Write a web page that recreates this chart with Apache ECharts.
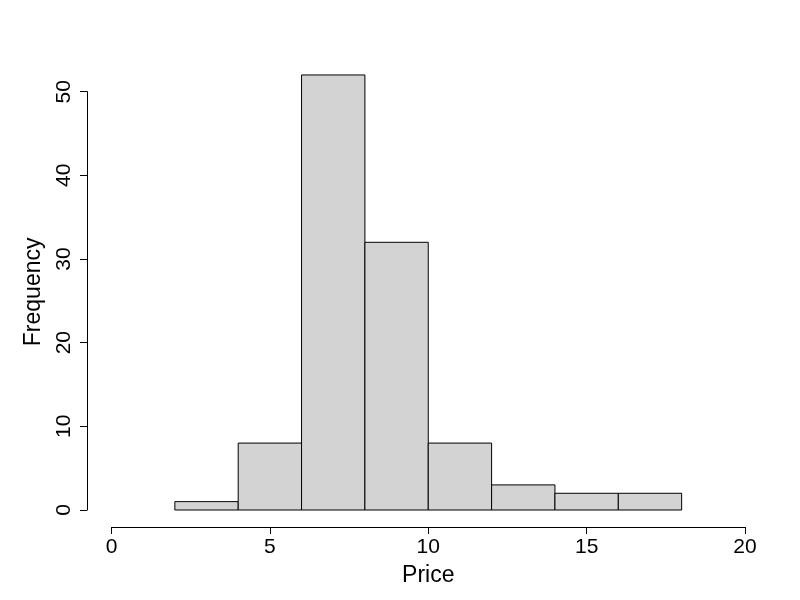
<!DOCTYPE html>
<html>
<head>
<meta charset="utf-8">
<script src="https://cdn.jsdelivr.net/npm/echarts@6/dist/echarts.min.js"></script>
<style>html,body{margin:0;padding:0;background:#fff}#c{width:800px;height:600px}</style>
</head>
<body>
<div id="c"></div>
<script>
var binStarts = [2, 4, 6, 8, 10, 12, 14, 16];
var binEnds   = [4, 6, 8, 10, 12, 14, 16, 18];
var counts    = [1, 8, 52, 32, 8, 3, 2, 2];
var xTicks = [0, 5, 10, 15, 20];
var yTicks = [0, 10, 20, 30, 40, 50];

var data = binStarts.map(function (s, i) { return [s, binEnds[i], counts[i]]; });
var font = 'Liberation Sans, Arial, sans-serif';

var chart = echarts.init(document.getElementById('c'), null, {renderer: 'canvas'});
chart.setOption({
  animation: false,
  backgroundColor: '#fff',
  grid: {left: 111.5, right: 55, top: 91.7, bottom: 90, containLabel: false},
  xAxis: {
    type: 'value', min: xTicks[0], max: xTicks[xTicks.length - 1], interval: 5,
    offset: 17,
    name: 'Price', nameLocation: 'middle', nameGap: 37,
    nameTextStyle: {color: '#000', fontSize: 23, fontFamily: font},
    axisLine: {show: true, onZero: false, lineStyle: {color: '#000', width: 1}},
    axisTick: {show: true, length: 7, lineStyle: {color: '#000'}},
    axisLabel: {color: '#000', fontSize: 21, fontFamily: font, margin: 9.5},
    splitLine: {show: false}
  },
  yAxis: {
    type: 'value', min: yTicks[0], max: yTicks[yTicks.length - 1], interval: 10,
    offset: 24.5,
    name: 'Frequency', nameLocation: 'middle', nameGap: 40.5,
    nameTextStyle: {color: '#000', fontSize: 23, fontFamily: font, padding: [0, 0, 0, 18]},
    axisLine: {show: true, onZero: false, lineStyle: {color: '#000', width: 1}},
    axisTick: {show: true, length: 7, lineStyle: {color: '#000'}},
    axisLabel: {color: '#000', fontSize: 21, fontFamily: font, margin: 12.5, rotate: 90},
    splitLine: {show: false}
  },
  series: [{
    type: 'custom',
    clip: false,
    data: data,
    encode: {x: [0, 1], y: 2},
    renderItem: function (params, api) {
      var p0 = api.coord([api.value(0), 0]);
      var p1 = api.coord([api.value(1), api.value(2)]);
      return {
        type: 'rect',
        shape: {x: p0[0], y: p1[1], width: p1[0] - p0[0], height: p0[1] - p1[1]},
        style: {fill: '#D3D3D3', stroke: '#000', lineWidth: 1}
      };
    }
  }]
});
</script>
</body>
</html>
